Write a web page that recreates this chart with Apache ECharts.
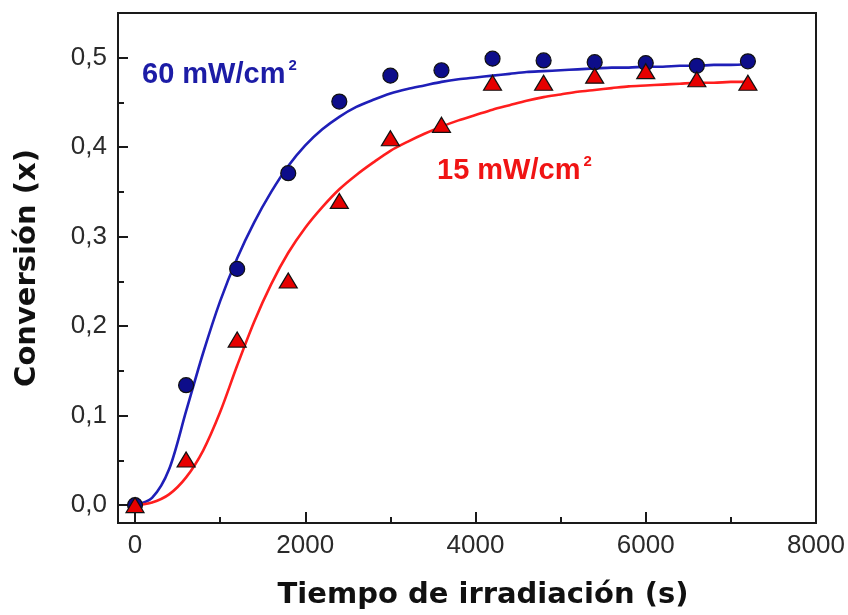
<!DOCTYPE html>
<html>
<head>
<meta charset="utf-8">
<script src="https://cdn.jsdelivr.net/npm/echarts@6/dist/echarts.min.js"></script>
<style>
  html, body { margin: 0; padding: 0; background: #fff; }
  #chart { width: 848px; height: 615px; }
</style>
</head>
<body>
<div id="chart"></div>
<script>
// Measured conversion vs irradiation time (s)
const timeS = [0, 600, 1200, 1800, 2400, 3000, 3600, 4200, 4800, 5400, 6000, 6600, 7200];
const conv60 = [0.000, 0.134, 0.264, 0.371, 0.451, 0.480, 0.486, 0.499, 0.497, 0.495, 0.494, 0.491, 0.496];
const conv15 = [0.000, 0.051, 0.185, 0.251, 0.340, 0.410, 0.425, 0.472, 0.472, 0.480, 0.485, 0.476, 0.472];

// Fitted kinetic curves, sampled every 200 s
const fitTime = [0, 200, 400, 600, 800, 1000, 1200, 1400, 1600, 1800, 2000, 2200, 2400, 2600, 2800, 3000, 3200, 3400, 3600,
                 3800, 4000, 4200, 4400, 4600, 4800, 5000, 5200, 5400, 5600, 5800, 6000, 6200, 6400, 6600, 6800, 7000, 7200];
const fit60 = [0.000, 0.008, 0.040, 0.105, 0.170, 0.228, 0.276, 0.316, 0.350, 0.379, 0.402, 0.420, 0.434, 0.445, 0.453, 0.460, 0.465, 0.469, 0.473,
               0.476, 0.478, 0.480, 0.482, 0.484, 0.485, 0.486, 0.487, 0.488, 0.489, 0.489, 0.490, 0.490, 0.491, 0.491, 0.492, 0.492, 0.493];
const fit15 = [0.000, 0.003, 0.012, 0.031, 0.061, 0.104, 0.156, 0.205, 0.247, 0.282, 0.310, 0.333, 0.353, 0.369, 0.383, 0.396, 0.406, 0.415, 0.423,
               0.430, 0.436, 0.442, 0.447, 0.452, 0.456, 0.459, 0.462, 0.464, 0.466, 0.468, 0.469, 0.470, 0.471, 0.472, 0.472, 0.473, 0.473];

// Axis ticks
const xTicks = [0, 2000, 4000, 6000, 8000];
const xMinorTicks = [1000, 3000, 5000, 7000];
const yTicks = [0, 0.1, 0.2, 0.3, 0.4, 0.5];
const yMinorTicks = [0.05, 0.15, 0.25, 0.35, 0.45];

const labels = { label60: '60 mW/cm', label15: '15 mW/cm', power: '2' };

const X_MIN = -200, X_MAX = 8000, Y_MIN = -0.02, Y_MAX = 0.55;
const ink = '#1a1a1a';
const blueLine = '#1f1fb8';
const blueFill = '#0d0d8a';
const redLine = '#ff1e1e';
const redFill = '#e60000';

const pair = (xs, ys) => xs.map((x, i) => [x, ys[i]]);

const chart = echarts.init(document.getElementById('chart'), null, { renderer: 'canvas' });

function baseX(extra) {
  return Object.assign({
    type: 'value', min: X_MIN, max: X_MAX, position: 'bottom',
    splitLine: { show: false }
  }, extra);
}
function baseY(extra) {
  return Object.assign({
    type: 'value', min: Y_MIN, max: Y_MAX, position: 'left',
    splitLine: { show: false }
  }, extra);
}

chart.setOption({
  backgroundColor: '#ffffff',
  animation: false,
  grid: {
    left: 118, right: 32, top: 13, bottom: 92,
    show: true, borderColor: ink, borderWidth: 2, backgroundColor: 'transparent',
    outerBoundsMode: 'none'
  },
  xAxis: [
    baseX({
      name: 'Tiempo de irradiación (s)',
      nameLocation: 'middle',
      nameGap: 58,
      nameTextStyle: {
        fontFamily: 'DejaVu Sans', fontWeight: 'bold', fontSize: 29, color: '#111',
        padding: [0, 0, 0, 32]
      },
      axisLine: { show: true, onZero: false, lineStyle: { color: ink, width: 2 } },
      axisTick: { show: true, inside: true, length: 11, customValues: xTicks, lineStyle: { color: ink, width: 2 } },
      axisLabel: {
        show: true, margin: 10, customValues: xTicks,
        fontFamily: 'Liberation Sans', fontSize: 26, color: '#2a2a2a',
        formatter: v => String(Math.round(v))
      }
    }),
    baseX({
      axisLine: { show: false, onZero: false },
      axisTick: { show: true, inside: true, length: 6, customValues: xMinorTicks, lineStyle: { color: ink, width: 2 } },
      axisLabel: { show: false }
    })
  ],
  yAxis: [
    baseY({
      name: 'Conversión (x)',
      nameLocation: 'middle',
      nameGap: 76,
      nameRotate: 90,
      nameTextStyle: { fontFamily: 'DejaVu Sans', fontWeight: 'bold', fontSize: 29, color: '#111' },
      axisLine: { show: true, onZero: false, lineStyle: { color: ink, width: 2 } },
      axisTick: { show: true, inside: true, length: 10, customValues: yTicks, lineStyle: { color: ink, width: 2 } },
      axisLabel: {
        show: true, margin: 11, customValues: yTicks,
        fontFamily: 'Liberation Sans', fontSize: 26, color: '#2a2a2a',
        formatter: v => v.toFixed(1).replace('.', ',')
      }
    }),
    baseY({
      axisLine: { show: false, onZero: false },
      axisTick: { show: true, inside: true, length: 6, customValues: yMinorTicks, lineStyle: { color: ink, width: 2 } },
      axisLabel: { show: false }
    })
  ],
  series: [
    {
      name: 'fit 60', type: 'line', xAxisIndex: 0, yAxisIndex: 0, z: 2,
      data: pair(fitTime, fit60), smooth: 0.3, showSymbol: false,
      lineStyle: { color: blueLine, width: 2.6 }
    },
    {
      name: 'fit 15', type: 'line', xAxisIndex: 0, yAxisIndex: 0, z: 2,
      data: pair(fitTime, fit15), smooth: 0.3, showSymbol: false,
      lineStyle: { color: redLine, width: 2.6 }
    },
    {
      name: '60 mW/cm2', type: 'scatter', xAxisIndex: 0, yAxisIndex: 0, z: 3,
      data: pair(timeS, conv60), symbol: 'circle', symbolSize: 15,
      itemStyle: { color: blueFill, borderColor: '#111', borderWidth: 1.2, opacity: 1 }
    },
    {
      name: '15 mW/cm2', type: 'scatter', xAxisIndex: 0, yAxisIndex: 0, z: 4,
      data: pair(timeS, conv15), symbol: 'triangle', symbolSize: [18, 15],
      itemStyle: { color: redFill, borderColor: '#111', borderWidth: 1.2, opacity: 1 }
    }
  ],
  graphic: [
    {
      type: 'text', left: 142, top: 58, z: 10,
      style: {
        text: '{m|' + labels.label60 + '}{s|' + labels.power + '}',
        rich: {
          m: { fontFamily: 'Liberation Sans', fontWeight: 'bold', fontSize: 29, fill: '#1c1ca6', lineHeight: 34 },
          s: { fontFamily: 'Liberation Sans', fontWeight: 'bold', fontSize: 15, fill: '#1c1ca6', verticalAlign: 'top', lineHeight: 34, padding: [0, 0, 16, 3] }
        }
      }
    },
    {
      type: 'text', left: 437, top: 154, z: 10,
      style: {
        text: '{m|' + labels.label15 + '}{s|' + labels.power + '}',
        rich: {
          m: { fontFamily: 'Liberation Sans', fontWeight: 'bold', fontSize: 29, fill: '#f01414', lineHeight: 34 },
          s: { fontFamily: 'Liberation Sans', fontWeight: 'bold', fontSize: 15, fill: '#f01414', verticalAlign: 'top', lineHeight: 34, padding: [0, 0, 16, 3] }
        }
      }
    }
  ]
});
</script>
</body>
</html>
